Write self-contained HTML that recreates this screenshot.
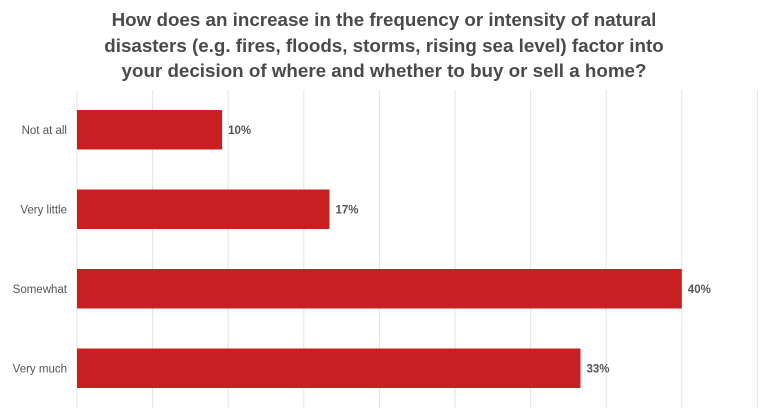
<!DOCTYPE html>
<html><head><meta charset="utf-8"><style>
body{margin:0;background:#fff;font-family:"Liberation Sans",sans-serif}
#t{position:absolute;left:0;top:7px;width:768px;text-align:center;font-weight:bold;font-size:18.8px;line-height:25.5px;color:#4a4a4a}
</style></head><body>
<div id="t">How does an increase in the frequency or intensity of natural<br>disasters (e.g. fires, floods, storms, rising sea level) factor into<br>your decision of where and whether to buy or sell a home?</div>
<svg id="c" width="768" height="419" style="position:absolute;left:0;top:0"></svg>
<script>
const categories=["Not at all","Very little","Somewhat","Very much"];
const values=[9.6,16.7,40,33.3];
const valueLabels=["10%","17%","40%","33%"];
const gridTicks=[0,5,10,15,20,25,30,35,40,45];
const svg=document.getElementById('c');
const NS='http://www.w3.org/2000/svg';
const x0=77,pxPer=15.12;
const x=v=>x0+v*pxPer;
const y=i=>110+i*79.5;
const bh=39.5;
function mk(tag,attrs){const e=document.createElementNS(NS,tag);for(const k in attrs)e.setAttribute(k,attrs[k]);svg.appendChild(e);return e;}
gridTicks.forEach(t=>{
 const l=mk('line',{x1:x(t),x2:x(t),y1:90,y2:408,stroke:'#e3e3e3','stroke-width':1});
 
 
});
categories.forEach((c,i)=>{
 const r=mk('rect',{x:x0,y:y(i),width:x(values[i])-x0,height:bh,fill:'#c82022'});
 
 
 const lb=mk('text',{x:67,y:y(i)+bh/2+4,'text-anchor':'end','font-size':'11.5',fill:'#555','font-family':'Liberation Sans, sans-serif'});
 lb.textContent=c;
 
 
 const vl=mk('text',{x:x(values[i])+6,y:y(i)+bh/2+4,'font-size':'11.5','font-weight':'bold',fill:'#555','font-family':'Liberation Sans, sans-serif'});
 vl.textContent=valueLabels[i];
 
 
});
</script>
</body></html>
